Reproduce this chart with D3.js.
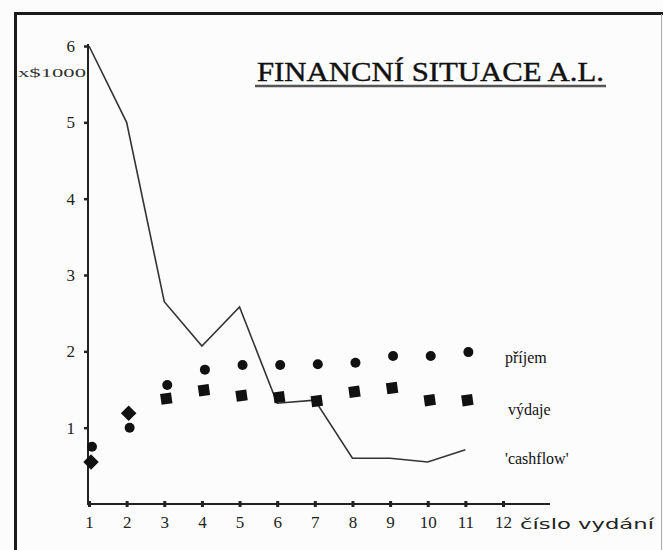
<!DOCTYPE html>
<html><head><meta charset="utf-8">
<script src="https://cdn.jsdelivr.net/npm/d3@7/dist/d3.min.js"></script>
<style>html,body{margin:0;padding:0;background:#fff;}svg{display:block;}</style>
</head><body>
<script>
const issues = [1,2,3,4,5,6,7,8,9,10,11];
const xTicks = [1,2,3,4,5,6,7,8,9,10,11,12];
const yTicks = [1,2,3,4,5,6];
const prijem = [0.75,1.0,1.56,1.76,1.82,1.82,1.83,1.85,1.94,1.94,1.99];
const vydaje = [0.55,1.19,1.38,1.49,1.42,1.40,1.35,1.47,1.52,1.36,1.36];
const cashflow = [6.0,5.0,2.65,2.07,2.58,1.32,1.36,0.60,0.60,0.55,0.71];
const seriesLabels = ["příjem","výdaje","'cashflow'"];
const seriesLabelValues = [1.9,1.22,0.58];

const W=663,H=550;
const svg=d3.select("body").append("svg").attr("width",W).attr("height",H);
svg.append("rect").attr("width",W).attr("height",H).attr("fill","#fcfcfc");
// frame
svg.append("path").attr("d",`M15.5,${H} L15.5,13.5 L${W},13.5`).attr("fill","none").attr("stroke","#1a1a1a").attr("stroke-width",3);
svg.append("line").attr("x1",661.5).attr("x2",661.5).attr("y1",14).attr("y2",H).attr("stroke","#aaa").attr("stroke-width",1);

const x=d3.scaleLinear().domain([1,12]).range([89,503]);
const y=d3.scaleLinear().domain([0,6]).range([504,46]);
const serif="'Liberation Serif','DejaVu Serif',serif";

// axes
svg.append("line").attr("x1",88).attr("x2",88).attr("y1",44).attr("y2",505).attr("stroke","#222").attr("stroke-width",2);
svg.append("line").attr("x1",87).attr("x2",550).attr("y1",504).attr("y2",504).attr("stroke","#222").attr("stroke-width",2);

const yAxis=svg.append("g").attr("transform","translate(88,0)")
  .call(d3.axisLeft(y).tickValues(yTicks).tickSize(4).tickPadding(9).tickFormat(d3.format("d")));
yAxis.select(".domain").remove();
yAxis.selectAll("line").attr("stroke","#222").attr("stroke-width",2.5);
yAxis.selectAll("text").attr("font-family",serif).attr("font-size",17).attr("fill","#222");

const xAxis=svg.append("g").attr("transform","translate(0,504)")
  .call(d3.axisBottom(x).tickValues(xTicks).tickSizeInner(3).tickSizeOuter(0).tickPadding(9).tickFormat(d3.format("d")));
xAxis.select(".domain").remove();
xAxis.selectAll("line").attr("stroke","#222").attr("stroke-width",3).attr("y1",-3);
xAxis.selectAll("text").attr("font-family",serif).attr("font-size",17).attr("fill","#222");

svg.append("text").attr("x",18).attr("y",77).attr("font-family",serif).attr("font-size",13)
  .attr("textLength",68).attr("lengthAdjust","spacingAndGlyphs").attr("fill","#333").text("x$1000");
svg.append("text").attr("x",520).attr("y",529).attr("font-family","'DejaVu Sans',sans-serif").attr("font-size",14)
  .attr("textLength",134).attr("lengthAdjust","spacingAndGlyphs").attr("fill","#222").text("číslo vydání");

// title
svg.append("text").attr("x",257).attr("y",81).attr("font-family",serif).attr("font-size",27)
  .attr("textLength",347).attr("lengthAdjust","spacingAndGlyphs").attr("fill","#111")
  .attr("stroke","#111").attr("stroke-width",0.4).text("FINANCNÍ SITUACE A.L.");
svg.append("line").attr("x1",255).attr("x2",606).attr("y1",86).attr("y2",86).attr("stroke","#555").attr("stroke-width",2.5);

// cashflow line
svg.append("path").datum(cashflow.map((v,i)=>[issues[i],v]))
  .attr("d",d3.line().x(d=>x(d[0])).y(d=>y(d[1])))
  .attr("fill","none").attr("stroke","#333").attr("stroke-width",1.6);

// prijem circles
svg.selectAll("circle.p").data(prijem).join("circle").attr("class","p")
  .attr("cx",(d,i)=>x(issues[i])+3).attr("cy",d=>y(d)).attr("r",5).attr("fill","#111");

// vydaje squares
svg.selectAll("rect.v").data(vydaje).join("rect").attr("class","v")
  .attr("x",-5.5).attr("y",-5.5).attr("width",11).attr("height",11).attr("fill","#111")
  .attr("transform",(d,i)=>`translate(${x(issues[i])+2},${y(d)}) rotate(${i<2?45:-8})`);

// series labels
svg.selectAll("text.lab").data(seriesLabels).join("text").attr("class","lab")
  .attr("x",(d,i)=>i===1?508:505).attr("y",(d,i)=>y(seriesLabelValues[i])+4)
  .attr("font-family",serif).attr("font-size",16).attr("fill","#111").text(d=>d);
</script>
</body></html>
